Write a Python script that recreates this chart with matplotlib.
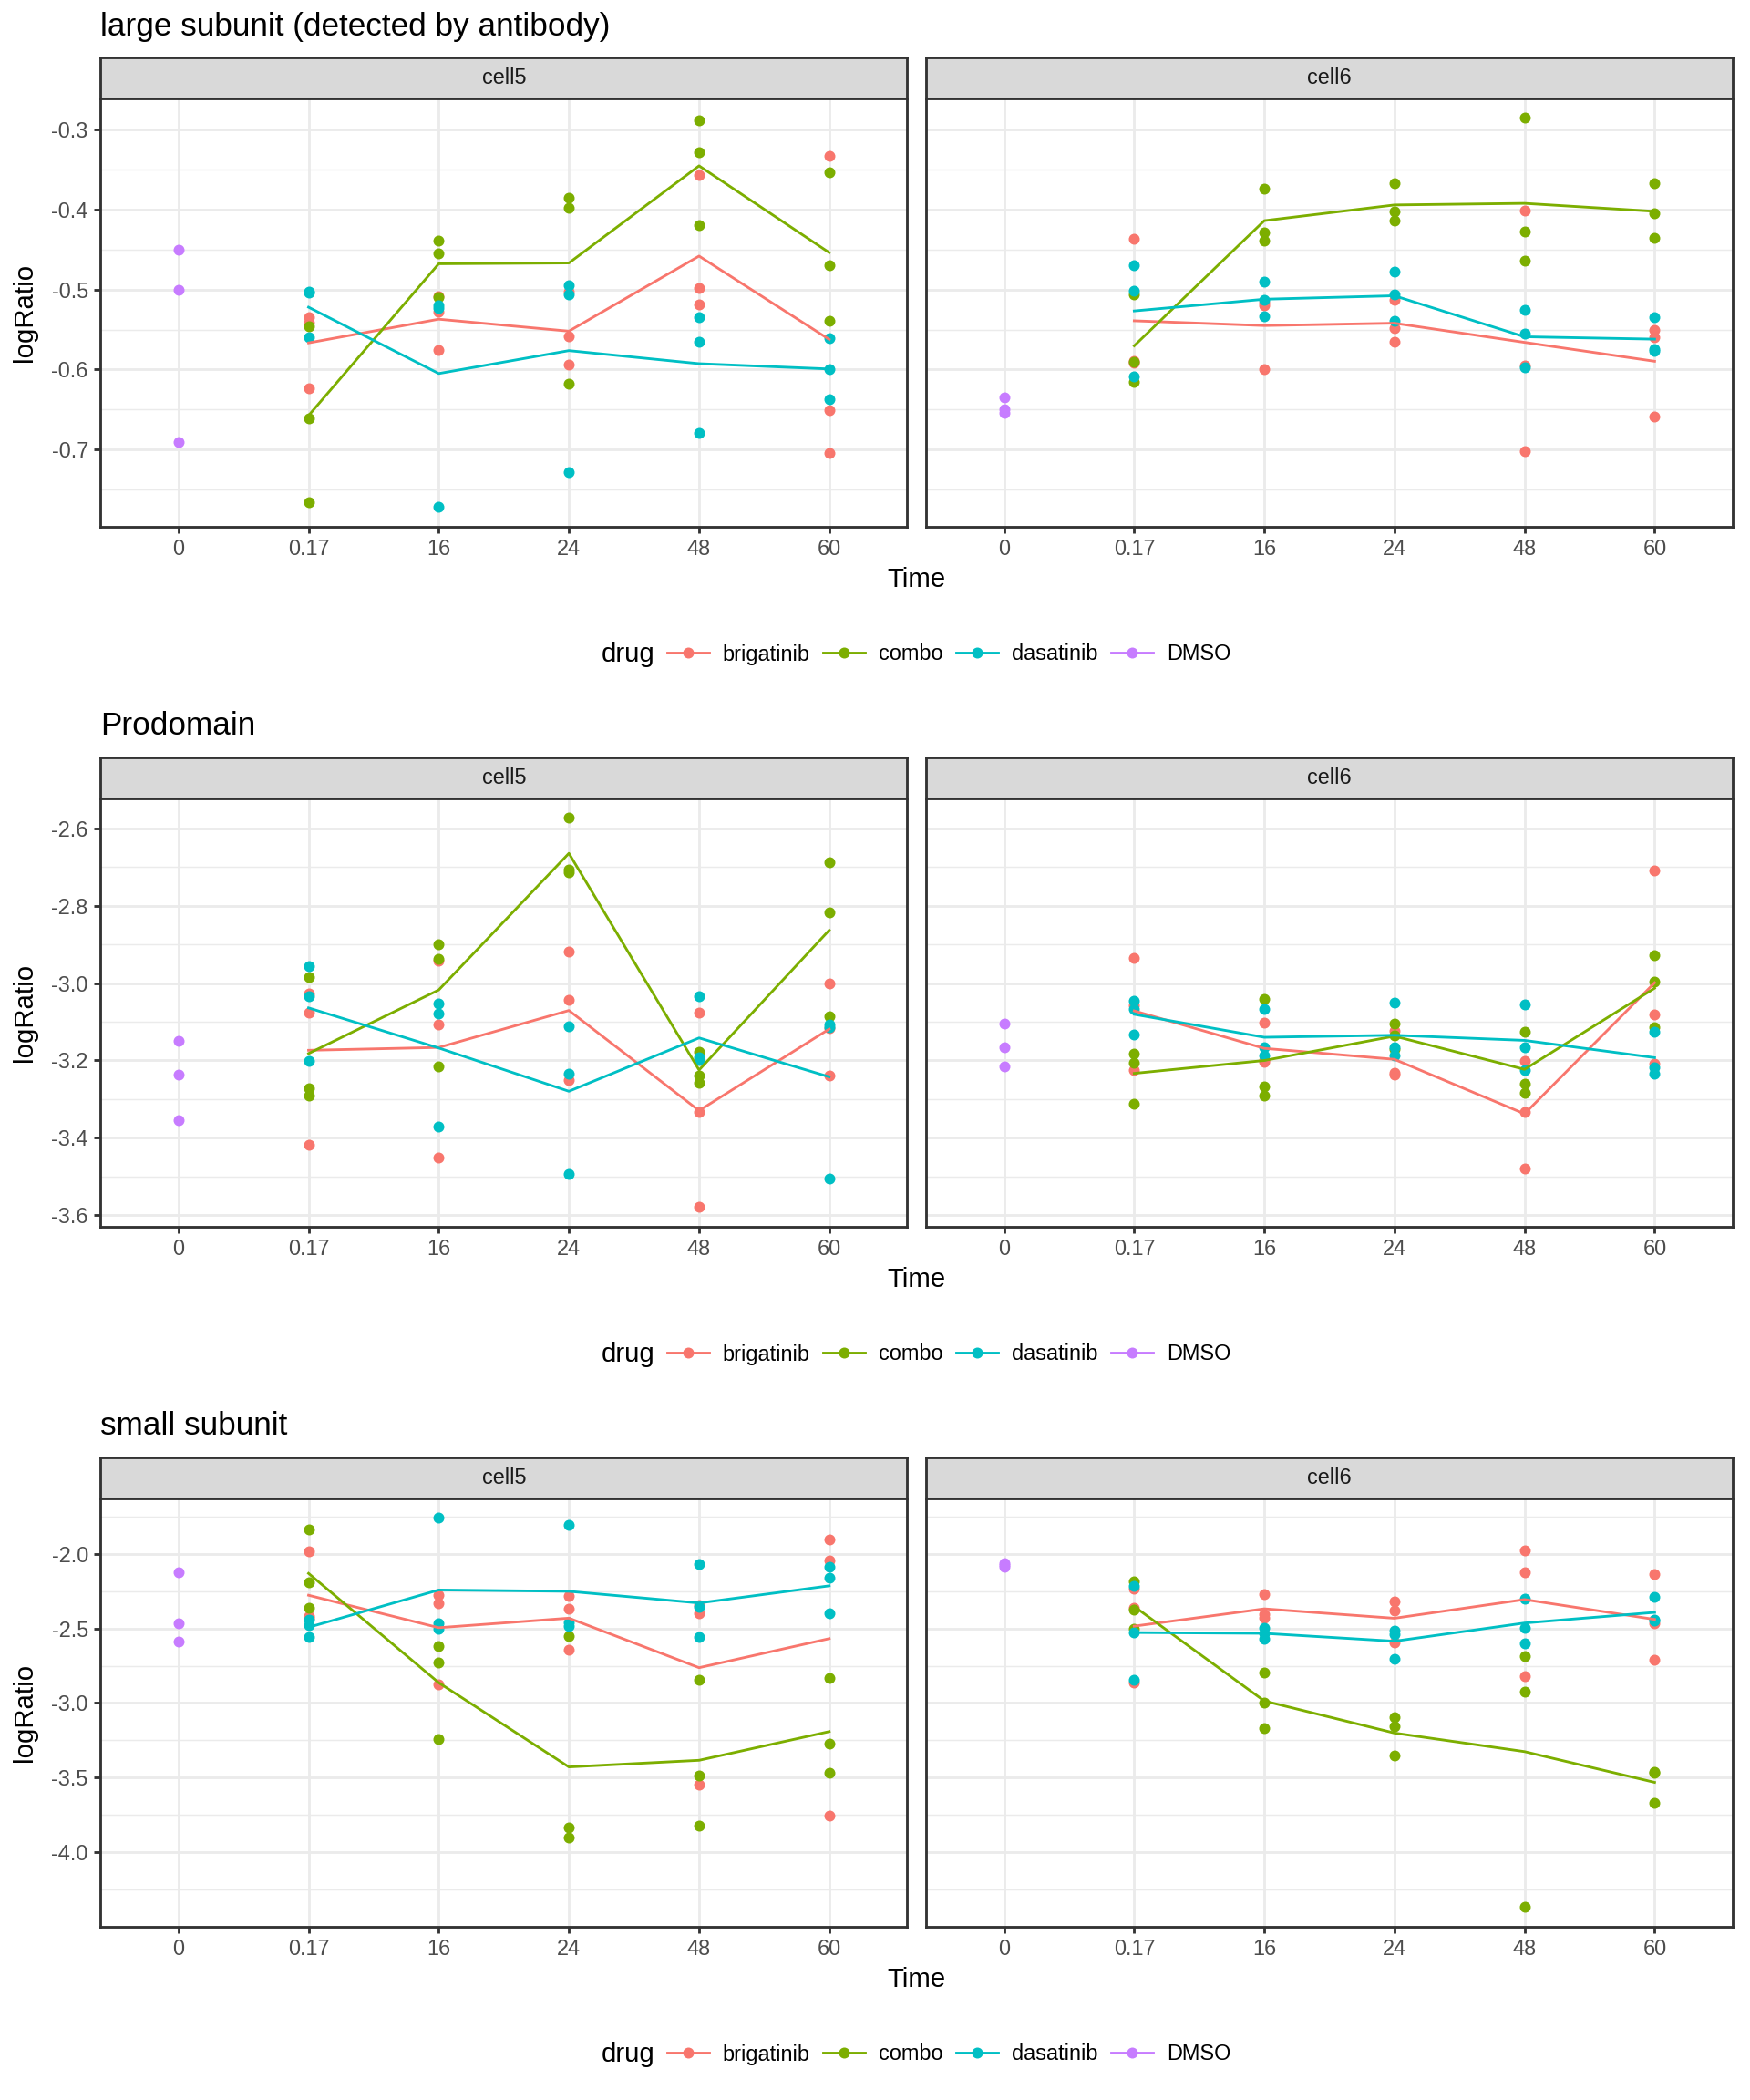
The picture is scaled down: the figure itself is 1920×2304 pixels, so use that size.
import matplotlib
matplotlib.use("Agg")
import matplotlib.pyplot as plt
from matplotlib.lines import Line2D
import numpy as np

plt.rcParams['font.family'] = ['Liberation Sans', 'DejaVu Sans']

# ---------------- data ----------------
TIMES = ["0", "0.17", "16", "24", "48", "60"]
DRUGS = ["brigatinib", "combo", "dasatinib", "DMSO"]
COLORS = {"brigatinib": "#F8766D", "combo": "#7CAE00",
          "dasatinib": "#00BFC4", "DMSO": "#C77CFF"}
CELLS = ["cell5", "cell6"]
TITLES = ["large subunit (detected by antibody)", "Prodomain", "small subunit"]
Y_STEPS = [0.1, 0.2, 0.5]

# replicates per treated time point (0.17, 16, 24, 48, 60); DMSO only at time 0
LARGE_CELL5_DMSO = [-0.450, -0.500, -0.691]
LARGE_CELL5_BRIGATINIB = [[-0.535, -0.541, -0.624], [-0.508, -0.528, -0.575], [-0.503, -0.559, -0.594],
                          [-0.357, -0.498, -0.519], [-0.332, -0.651, -0.704]]
LARGE_CELL5_COMBO = [[-0.546, -0.661, -0.766], [-0.439, -0.455, -0.509], [-0.385, -0.397, -0.618],
                     [-0.288, -0.328, -0.419], [-0.353, -0.469, -0.539]]
LARGE_CELL5_DASATINIB = [[-0.502, -0.504, -0.560], [-0.520, -0.523, -0.772], [-0.494, -0.506, -0.729],
                         [-0.534, -0.565, -0.679], [-0.561, -0.600, -0.637]]

LARGE_CELL6_DMSO = [-0.635, -0.650, -0.654]
LARGE_CELL6_BRIGATINIB = [[-0.436, -0.589, -0.592], [-0.516, -0.520, -0.599], [-0.513, -0.548, -0.565],
                          [-0.401, -0.595, -0.702], [-0.550, -0.560, -0.659]]
LARGE_CELL6_COMBO = [[-0.506, -0.590, -0.615], [-0.374, -0.428, -0.439], [-0.367, -0.402, -0.413],
                     [-0.285, -0.427, -0.464], [-0.367, -0.404, -0.435]]
LARGE_CELL6_DASATINIB = [[-0.470, -0.501, -0.609], [-0.490, -0.513, -0.533], [-0.478, -0.506, -0.539],
                         [-0.525, -0.555, -0.597], [-0.535, -0.574, -0.577]]

PRO_CELL5_DMSO = [-3.150, -3.236, -3.355]
PRO_CELL5_BRIGATINIB = [[-3.027, -3.076, -3.419], [-2.942, -3.107, -3.451], [-2.919, -3.044, -3.250],
                        [-3.077, -3.334, -3.579], [-3.001, -3.117, -3.239]]
PRO_CELL5_COMBO = [[-2.984, -3.272, -3.291], [-2.900, -2.938, -3.216], [-2.573, -2.707, -2.714],
                   [-3.178, -3.239, -3.258], [-2.688, -2.817, -3.085]]
PRO_CELL5_DASATINIB = [[-2.957, -3.035, -3.201], [-3.054, -3.079, -3.371], [-3.113, -3.234, -3.493],
                       [-3.035, -3.193, -3.198], [-3.108, -3.115, -3.505]]

PRO_CELL6_DMSO = [-3.104, -3.167, -3.215]
PRO_CELL6_BRIGATINIB = [[-2.934, -3.058, -3.224], [-3.103, -3.199, -3.205], [-3.124, -3.232, -3.236],
                        [-3.201, -3.334, -3.480], [-2.708, -3.081, -3.209]]
PRO_CELL6_COMBO = [[-3.182, -3.207, -3.312], [-3.041, -3.268, -3.292], [-3.106, -3.136, -3.170],
                   [-3.125, -3.260, -3.285], [-2.929, -2.997, -3.114]]
PRO_CELL6_DASATINIB = [[-3.045, -3.066, -3.132], [-3.067, -3.167, -3.187], [-3.051, -3.167, -3.187],
                       [-3.055, -3.166, -3.224], [-3.127, -3.218, -3.234]]

SMALL_CELL5_DMSO = [-2.124, -2.466, -2.588]
SMALL_CELL5_BRIGATINIB = [[-1.983, -2.417, -2.431], [-2.277, -2.331, -2.876], [-2.283, -2.368, -2.641],
                          [-2.345, -2.397, -3.547], [-1.902, -2.044, -3.758]]
SMALL_CELL5_COMBO = [[-1.837, -2.190, -2.364], [-2.621, -2.730, -3.240], [-2.549, -3.834, -3.904],
                     [-2.843, -3.486, -3.824], [-2.832, -3.272, -3.471]]
SMALL_CELL5_DASATINIB = [[-2.442, -2.478, -2.557], [-1.758, -2.468, -2.499], [-1.806, -2.462, -2.484],
                         [-2.070, -2.357, -2.560], [-2.087, -2.157, -2.397]]

SMALL_CELL6_DMSO = [-2.062, -2.075, -2.085]
SMALL_CELL6_BRIGATINIB = [[-2.232, -2.360, -2.861], [-2.272, -2.403, -2.429], [-2.320, -2.381, -2.593],
                          [-1.976, -2.124, -2.817], [-2.137, -2.468, -2.712]]
SMALL_CELL6_COMBO = [[-2.183, -2.373, -2.501], [-2.793, -3.000, -3.166], [-3.098, -3.155, -3.351],
                     [-2.684, -2.926, -4.368], [-3.460, -3.470, -3.667]]
SMALL_CELL6_DASATINIB = [[-2.214, -2.525, -2.843], [-2.495, -2.532, -2.571], [-2.512, -2.538, -2.706],
                         [-2.298, -2.495, -2.597], [-2.290, -2.440, -2.446]]

BLOCKS = [
    {"cell5": {"brigatinib": LARGE_CELL5_BRIGATINIB, "combo": LARGE_CELL5_COMBO,
               "dasatinib": LARGE_CELL5_DASATINIB, "DMSO": LARGE_CELL5_DMSO},
     "cell6": {"brigatinib": LARGE_CELL6_BRIGATINIB, "combo": LARGE_CELL6_COMBO,
               "dasatinib": LARGE_CELL6_DASATINIB, "DMSO": LARGE_CELL6_DMSO}},
    {"cell5": {"brigatinib": PRO_CELL5_BRIGATINIB, "combo": PRO_CELL5_COMBO,
               "dasatinib": PRO_CELL5_DASATINIB, "DMSO": PRO_CELL5_DMSO},
     "cell6": {"brigatinib": PRO_CELL6_BRIGATINIB, "combo": PRO_CELL6_COMBO,
               "dasatinib": PRO_CELL6_DASATINIB, "DMSO": PRO_CELL6_DMSO}},
    {"cell5": {"brigatinib": SMALL_CELL5_BRIGATINIB, "combo": SMALL_CELL5_COMBO,
               "dasatinib": SMALL_CELL5_DASATINIB, "DMSO": SMALL_CELL5_DMSO},
     "cell6": {"brigatinib": SMALL_CELL6_BRIGATINIB, "combo": SMALL_CELL6_COMBO,
               "dasatinib": SMALL_CELL6_DASATINIB, "DMSO": SMALL_CELL6_DMSO}},
]

# ---------------- layout ----------------
W, H = 1920, 2304
fig = plt.figure(figsize=(10, 12), dpi=192)
fig.patch.set_facecolor("white")


def rect(x0, y0, x1, y1):
    return [x0 / W, 1 - y1 / H, (x1 - x0) / W, (y1 - y0) / H]


PANEL_X = [(110, 995.5), (1016, 1901)]
BLOCK_TOP0 = 63
BLOCK_STEP = 768
STRIP_H = 45
PLOT_H = 469.5

LW = 1.07
GRID_MAJOR = "#EBEBEB"
DARK = "#333333"
TICKTXT = "#4D4D4D"
PT_S = 20.25

for k, block in enumerate(BLOCKS):
    top = BLOCK_TOP0 + k * BLOCK_STEP
    s0, s1 = top, top + STRIP_H
    p0, p1 = s1, s1 + PLOT_H

    allvals = []
    for cell in CELLS:
        for drug in DRUGS:
            d = block[cell][drug]
            if drug == "DMSO":
                allvals += list(d)
            else:
                for reps in d:
                    allvals += list(reps)
    lo, hi = min(allvals), max(allvals)
    r = hi - lo
    ylim = (lo - 0.05 * r, hi + 0.05 * r)
    step = Y_STEPS[k]
    first = np.ceil(round(ylim[0] / step, 6)) * step
    majors = np.round(np.arange(first, ylim[1] + 1e-9, step), 6)
    minors = np.round(np.arange(first - step / 2, ylim[1] + 1e-9, step), 6)
    minors = [m for m in minors if ylim[0] <= m <= ylim[1]]

    for ci, cell in enumerate(CELLS):
        x0, x1 = PANEL_X[ci]
        # strip
        sax = fig.add_axes(rect(x0, s0, x1, s1))
        sax.set_facecolor("#D9D9D9")
        sax.set_xticks([]); sax.set_yticks([])
        for sp in sax.spines.values():
            sp.set_color(DARK); sp.set_linewidth(LW)
        sax.text(0.5, 0.5, cell, ha="center", va="center", fontsize=8.8,
                 color="#1A1A1A", transform=sax.transAxes)

        ax = fig.add_axes(rect(x0, p0, x1, p1))
        ax.set_facecolor("white")
        ax.set_xlim(0.4, len(TIMES) + 0.6)
        ax.set_ylim(*ylim)
        ax.set_xticks(range(1, len(TIMES) + 1))
        ax.set_xticklabels(TIMES)
        ax.set_yticks(majors)
        ax.set_yticklabels([f"{v:.1f}" for v in majors])
        ax.set_yticks(minors, minor=True)
        ax.tick_params(axis="x", which="minor", bottom=False)
        ax.set_axisbelow(True)
        ax.grid(which="major", axis="both", color=GRID_MAJOR, lw=LW)
        ax.grid(which="minor", axis="y", color=GRID_MAJOR, lw=LW / 2)
        ax.tick_params(which="major", length=2.75, width=LW, color=DARK,
                       labelsize=8.8, labelcolor=TICKTXT, pad=2.2)
        ax.tick_params(axis="y", which="minor", length=0)
        if ci == 1:
            ax.tick_params(axis="y", which="both", left=False, labelleft=False)
        for sp in ax.spines.values():
            sp.set_color(DARK); sp.set_linewidth(LW)

        # points
        for drug in DRUGS:
            d = block[cell][drug]
            if drug == "DMSO":
                xs = [1] * len(d)
                ys = list(d)
            else:
                xs, ys = [], []
                for ti, reps in enumerate(d):
                    xs += [ti + 2] * len(reps)
                    ys += list(reps)
            ax.scatter(xs, ys, s=PT_S, color=COLORS[drug], linewidths=0, zorder=3)
        # mean lines
        for drug in DRUGS[:3]:
            d = block[cell][drug]
            means = [np.mean(reps) for reps in d]
            ax.plot(range(2, 2 + len(means)), means, color=COLORS[drug], lw=LW, zorder=4)

    # titles and axis labels
    fig.text(110 / W, 1 - (top - 34) / H, TITLES[k], ha="left", va="center", fontsize=13.2)
    fig.text((PANEL_X[0][0] + PANEL_X[1][1]) / 2 / W, 1 - (top + 573) / H, "Time",
             ha="center", va="center", fontsize=11)
    fig.text(27 / W, 1 - ((p0 + p1) / 2) / H, "logRatio", ha="center", va="center",
             rotation=90, fontsize=11)

    # legend
    ly = top + 655
    fig.text(660 / W, 1 - ly / H, "drug", ha="left", va="center", fontsize=11)
    handles = [Line2D([], [], color=COLORS[d], lw=LW, marker="o", markersize=4.5,
                      markeredgewidth=0) for d in DRUGS]
    fig.legend(handles, DRUGS, loc="center left", bbox_to_anchor=(732 / W, 1 - ly / H),
               ncol=4, frameon=False, fontsize=8.8, handlelength=1.96,
               handletextpad=0.625, columnspacing=0.625, borderpad=0, borderaxespad=0)

fig.savefig("out.png", dpi=192, facecolor="white")
